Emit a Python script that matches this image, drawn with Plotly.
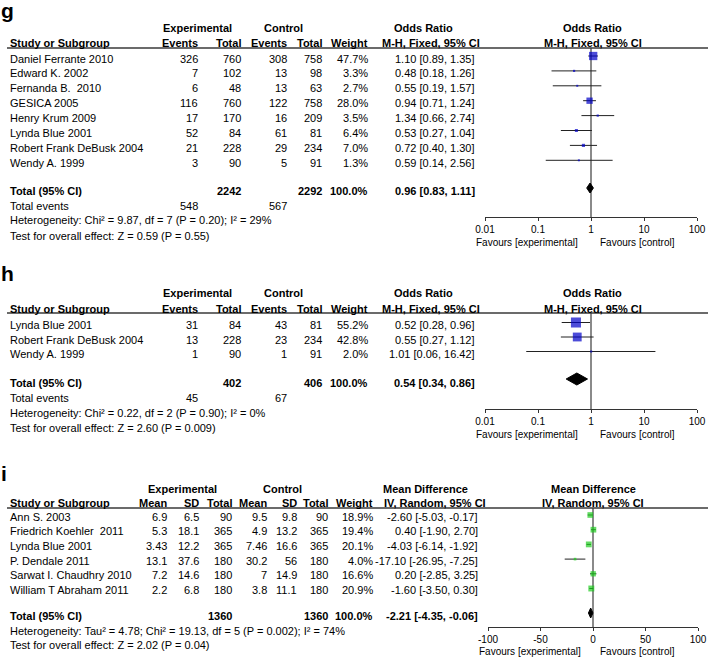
import plotly.graph_objects as go

# ---------------- Panel g data ----------------
g_studies = ["Daniel Ferrante 2010", "Edward K. 2002", "Fernanda B.  2010", "GESICA 2005",
             "Henry Krum 2009", "Lynda Blue 2001", "Robert Frank DeBusk 2004", "Wendy A. 1999"]
g_exp_events = [326, 7, 6, 116, 17, 52, 21, 3]
g_exp_total = [760, 102, 48, 760, 170, 84, 228, 90]
g_ctl_events = [308, 13, 13, 122, 16, 61, 29, 5]
g_ctl_total = [758, 98, 63, 758, 209, 81, 234, 91]
g_weight = [47.7, 3.3, 2.7, 28.0, 3.5, 6.4, 7.0, 1.3]
g_or = [1.10, 0.48, 0.55, 0.94, 1.34, 0.53, 0.72, 0.59]
g_lo = [0.89, 0.18, 0.19, 0.71, 0.66, 0.27, 0.40, 0.14]
g_hi = [1.35, 1.26, 1.57, 1.24, 2.74, 1.04, 1.30, 2.56]
g_total_n = [2242, 2292]
g_total_events = [548, 567]
g_total_or = [0.96, 0.83, 1.11]
g_het = "Heterogeneity: Chi² = 9.87, df = 7 (P = 0.20); I² = 29%"
g_test = "Test for overall effect: Z = 0.59 (P = 0.55)"

# ---------------- Panel h data ----------------
h_studies = ["Lynda Blue 2001", "Robert Frank DeBusk 2004", "Wendy A. 1999"]
h_exp_events = [31, 13, 1]
h_exp_total = [84, 228, 90]
h_ctl_events = [43, 23, 1]
h_ctl_total = [81, 234, 91]
h_weight = [55.2, 42.8, 2.0]
h_or = [0.52, 0.55, 1.01]
h_lo = [0.28, 0.27, 0.06]
h_hi = [0.96, 1.12, 16.42]
h_total_n = [402, 406]
h_total_events = [45, 67]
h_total_or = [0.54, 0.34, 0.86]
h_het = "Heterogeneity: Chi² = 0.22, df = 2 (P = 0.90); I² = 0%"
h_test = "Test for overall effect: Z = 2.60 (P = 0.009)"

# ---------------- Panel i data ----------------
i_studies = ["Ann S. 2003", "Friedrich Koehler  2011", "Lynda Blue 2001", "P. Dendale 2011",
             "Sarwat I. Chaudhry 2010", "William T Abraham 2011"]
i_exp_mean = [6.9, 5.3, 3.43, 13.1, 7.2, 2.2]
i_exp_sd = [6.5, 18.1, 12.2, 37.6, 14.6, 6.8]
i_exp_total = [90, 365, 365, 180, 180, 180]
i_ctl_mean = [9.5, 4.9, 7.46, 30.2, 7, 3.8]
i_ctl_sd = [9.8, 13.2, 16.6, 56, 14.9, 11.1]
i_ctl_total = [90, 365, 365, 180, 180, 180]
i_weight = [18.9, 19.4, 20.1, 4.0, 16.6, 20.9]
i_md = [-2.60, 0.40, -4.03, -17.10, 0.20, -1.60]
i_lo = [-5.03, -1.90, -6.14, -26.95, -2.85, -3.50]
i_hi = [-0.17, 2.70, -1.92, -7.25, 3.25, 0.30]
i_total_n = [1360, 1360]
i_total_md = [-2.21, -4.35, -0.06]
i_het = "Heterogeneity: Tau² = 4.78; Chi² = 19.13, df = 5 (P = 0.002); I² = 74%"
i_test = "Test for overall effect: Z = 2.02 (P = 0.04)"

or_ticks = [0.01, 0.1, 1, 10, 100]
or_ticktext = ["0.01", "0.1", "1", "10", "100"]
md_ticks = [-100, -50, 0, 50, 100]
md_ticktext = ["-100", "-50", "0", "50", "100"]

# ---------------- layout helpers ----------------
W, H = 708, 657
FONT = "Liberation Sans, Arial, Helvetica, sans-serif"
fig = go.Figure()
ann, shapes, lay = [], [], {}


def px(x):
    return x / W


def py(y):
    return 1 - y / H


def txt(x, y, s, anchor="left", bold=False, size=11):
    if bold:
        s = f"<b>{s}</b>"
    ann.append(dict(x=px(x), y=py(y), xref="paper", yref="paper", text=s, showarrow=False,
                    xanchor=anchor, yanchor="middle", borderpad=0, borderwidth=0,
                    font=dict(family=FONT, size=size, color="black")))


def hline(x0, x1, y):
    shapes.append(dict(type="line", xref="paper", yref="paper", x0=px(x0), x1=px(x1),
                       y0=py(y), y1=py(y), line=dict(color="#3a3a3a", width=1.3)))


def fmt_ci(e, l, h):
    return f"{e:.2f} [{l:.2f}, {h:.2f}]"


def forest(n, header_y, axis_y, x0, x1, xtype, xrange, tickvals, ticktext, ref,
           ys, est, lo, hi, weights, k, color, dia, dia_y, dia_half):
    xid = "x" if n == 1 else f"x{n}"
    yid = "y" if n == 1 else f"y{n}"
    common = dict(hoverinfo="skip", showlegend=False, xaxis=xid, yaxis=yid)
    fig.add_trace(go.Scatter(x=[ref, ref], y=[header_y, axis_y], mode="lines",
                             line=dict(color="#8a8a8a", width=2), **common))
    sizes = [max(2, k * w ** 0.5) for w in weights]
    fig.add_trace(go.Scatter(
        x=est, y=ys, mode="markers",
        marker=dict(symbol="square", size=sizes, color=color, line=dict(width=0)),
        error_x=dict(type="data", symmetric=False,
                     array=[h - e for e, h in zip(est, hi)],
                     arrayminus=[e - l for e, l in zip(est, lo)],
                     width=0, thickness=1, color="#222222"),
        **common))
    de, dl, dh = dia
    fig.add_trace(go.Scatter(x=[dl, de, dh, de, dl],
                             y=[dia_y, dia_y - dia_half, dia_y, dia_y + dia_half, dia_y],
                             mode="lines", fill="toself", fillcolor="black",
                             line=dict(color="black", width=1), **common))
    ax = dict(domain=[px(x0), px(x1)], range=xrange, type=xtype, anchor=yid,
              tickvals=tickvals, ticktext=ticktext, showline=True, linecolor="#333333",
              linewidth=1, ticks="outside", ticklen=3, tickcolor="#333333", tickwidth=1,
              showgrid=False, zeroline=False, fixedrange=True,
              tickfont=dict(family=FONT, size=10, color="black"))
    lay["xaxis" if n == 1 else f"xaxis{n}"] = ax
    lay[f"xaxis{n + 3}"] = dict(overlaying=xid, anchor=yid, range=xrange, type=xtype,
                                tickvals=tickvals, showticklabels=False, ticks="inside",
                                ticklen=4, tickcolor="#333333", tickwidth=1,
                                showline=False, showgrid=False, zeroline=False, fixedrange=True)
    lay["yaxis" if n == 1 else f"yaxis{n}"] = dict(domain=[py(axis_y), py(header_y)],
                                                   range=[axis_y, header_y], visible=False,
                                                   anchor=xid, fixedrange=True)


def binary_panel(n, label, label_y, r1, r2, line_y, row0, dy, total_y, ev_y, het_y, test_y,
                 axis_y, fav_y, dia_y, dia_half, k,
                 studies, ee, et, ce, ct, wt, est, lo, hi, tot_n, tot_ev, tot_or, het, test):
    txt(1, label_y, label, bold=True, size=21)
    txt(197, r1, "Experimental", "center", True)
    txt(283, r1, "Control", "center", True)
    txt(423, r1, "Odds Ratio", "center", True)
    txt(592, r1, "Odds Ratio", "center", True)
    txt(10, r2, "Study or Subgroup", bold=True)
    for xx, s in [(198, "Events"), (241, "Total"), (287, "Events"), (322, "Total"), (368, "Weight")]:
        txt(xx, r2, s, "right", True)
    txt(431, r2, "M-H, Fixed, 95% CI", "center", True)
    txt(593, r2, "M-H, Fixed, 95% CI", "center", True)
    hline(7, 708, line_y)
    ys = []
    for i, name in enumerate(studies):
        y = row0 + i * dy
        ys.append(y - 2.5)
        txt(10, y, name)
        txt(198, y, str(ee[i]), "right")
        txt(241, y, str(et[i]), "right")
        txt(287, y, str(ce[i]), "right")
        txt(322, y, str(ct[i]), "right")
        txt(368, y, f"{wt[i]:.1f}%", "right")
        txt(475, y, fmt_ci(est[i], lo[i], hi[i]), "right")
    txt(10, total_y, "Total (95% CI)", bold=True)
    txt(241, total_y, str(tot_n[0]), "right", True)
    txt(322, total_y, str(tot_n[1]), "right", True)
    txt(368, total_y, "100.0%", "right", True)
    txt(475, total_y, fmt_ci(*tot_or), "right", True)
    txt(10, ev_y, "Total events")
    txt(198, ev_y, str(tot_ev[0]), "right")
    txt(287, ev_y, str(tot_ev[1]), "right")
    txt(10, het_y, het)
    txt(10, test_y, test)
    txt(527, fav_y, "Favours [experimental]", "center", size=10)
    txt(637, fav_y, "Favours [control]", "center", size=10)
    forest(n, line_y, axis_y, 485, 697, "log", [-2, 2], or_ticks, or_ticktext, 1,
           ys, est, lo, hi, wt, k, "#0000c8", tot_or, dia_y, dia_half)


binary_panel(1, "g", 10, 28, 43, 48, 58.5, 14.9, 191, 206, 220, 236, 217, 242, 188, 5, 1.2,
             g_studies, g_exp_events, g_exp_total, g_ctl_events, g_ctl_total, g_weight,
             g_or, g_lo, g_hi, g_total_n, g_total_events, g_total_or, g_het, g_test)

binary_panel(2, "h", 273, 293, 309, 313, 325, 14.5, 383, 398, 413, 428, 409, 434, 379, 6, 1.35,
             h_studies, h_exp_events, h_exp_total, h_ctl_events, h_ctl_total, h_weight,
             h_or, h_lo, h_hi, h_total_n, h_total_events, h_total_or, h_het, h_test)

# ---------------- Panel i ----------------
txt(1, 473, "i", bold=True, size=21)
txt(182, 489, "Experimental", "center", True)
txt(282, 489, "Control", "center", True)
txt(426, 489, "Mean Difference", "center", True)
txt(593, 489, "Mean Difference", "center", True)
txt(10, 503, "Study or Subgroup", bold=True)
i_cols = [167, 199, 232, 267, 297, 328]
for xx, s in zip(i_cols + [373], ["Mean", "SD", "Total", "Mean", "SD", "Total", "Weight"]):
    txt(xx, 503, s, "right", True)
txt(435, 503, "IV, Random, 95% CI", "center", True)
txt(593, 503, "IV, Random, 95% CI", "center", True)
hline(7, 708, 508)
i_ys = []
for i, name in enumerate(i_studies):
    y = 516.5 + i * 14.7
    i_ys.append(y - 1.5)
    txt(10, y, name)
    vals = [i_exp_mean[i], i_exp_sd[i], i_exp_total[i], i_ctl_mean[i], i_ctl_sd[i], i_ctl_total[i]]
    for xx, v in zip(i_cols, vals):
        txt(xx, y, f"{v:g}", "right")
    txt(373, y, f"{i_weight[i]:.1f}%", "right")
    txt(478, y, fmt_ci(i_md[i], i_lo[i], i_hi[i]), "right")
txt(10, 616, "Total (95% CI)", bold=True)
txt(232, 616, str(i_total_n[0]), "right", True)
txt(328, 616, str(i_total_n[1]), "right", True)
txt(373, 616, "100.0%", "right", True)
txt(478, 616, fmt_ci(*i_total_md), "right", True)
txt(10, 631, i_het)
txt(10, 645, i_test)
txt(530, 651, "Favours [experimental]", "center", size=10)
txt(637, 651, "Favours [control]", "center", size=10)
forest(3, 508, 627, 488, 698, "linear", [-100, 100], md_ticks, md_ticktext, 0,
       i_ys, i_md, i_lo, i_hi, i_weight, 1.3, "#1fcc1f", i_total_md, 613, 5)

fig.update_layout(width=W, height=H, margin=dict(l=0, r=0, t=0, b=0, autoexpand=False),
                  autosize=False,
                  paper_bgcolor="white", plot_bgcolor="rgba(0,0,0,0)",
                  annotations=ann, shapes=shapes, showlegend=False,
                  font=dict(family=FONT, size=11, color="black"), **lay)

fig.write_html("out.html", config={"displayModeBar": False, "responsive": False},
               post_script="document.body.style.margin='0';document.body.style.overflow='hidden';")
